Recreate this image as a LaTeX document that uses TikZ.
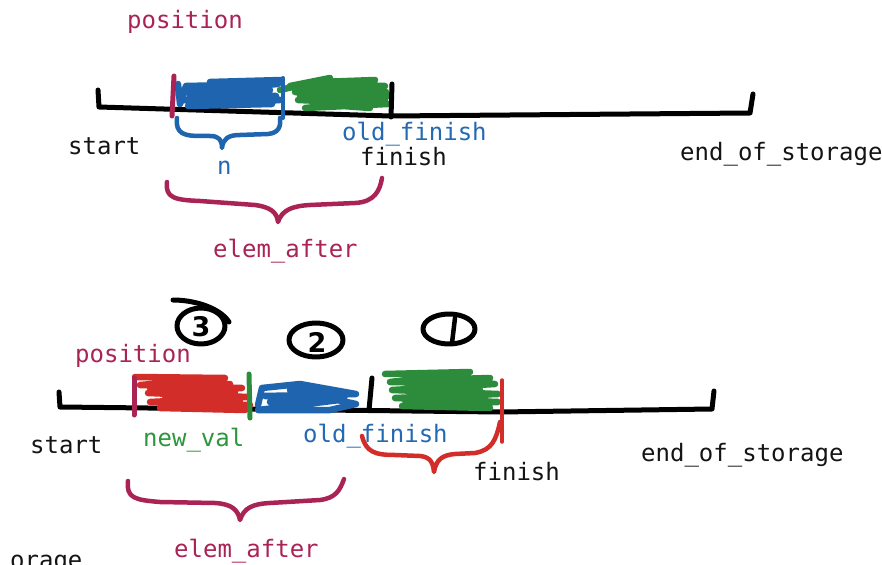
\documentclass[tikz,border=0pt]{standalone}
\usepackage{fontspec}
\setmonofont{DejaVu Sans Mono}
\setsansfont{DejaVu Sans}
\definecolor{crim}{RGB}{170,35,85}
\definecolor{bluc}{RGB}{30,100,175}
\definecolor{grnc}{RGB}{45,140,60}
\definecolor{redc}{RGB}{210,45,40}
\definecolor{txtblue}{RGB}{35,105,180}
\definecolor{txtgreen}{RGB}{45,150,60}
\definecolor{txtblack}{RGB}{20,20,20}
\begin{document}
\begin{tikzpicture}[x=1bp,y=-1bp, line cap=round, line join=round,
  lbl/.style={font=\ttfamily\fontsize{24bp}{28bp}\selectfont, inner sep=0pt, anchor=base west},
  ink/.style={line width=5bp},
  scrib/.style={line width=6.5bp},
  bracestroke/.style={line width=4.5bp},
  num/.style={font=\sffamily\bfseries\fontsize{27bp}{28bp}\selectfont, inner sep=0pt}]
\useasboundingbox (0,0) rectangle (882,565);
\fill[white] (0,0) rectangle (882,565);
\clip (0,0) rectangle (882,565);

% ================= TOP =================
\node[lbl, text=crim] (pos1) at (127,29) {position};
% baseline
\draw[ink, black] (98,90) -- (99,107) -- (390,116) -- (750,113) -- (753,94);
% scribbles
\draw[scrib, grnc] (280,90) -- (330,78) -- (290,86) -- (385,86) -- (295,92) -- (388,96) -- (298,100) -- (388,104) -- (305,108) -- (385,100) -- (300,96) -- (380,90) -- (320,82) -- (375,80) -- (310,88) -- (386,92) -- (315,104) -- (370,108);
\draw[scrib, bluc] (178,84) -- (180,104) -- (186,86) -- (278,84) -- (182,92) -- (276,96) -- (184,100) -- (272,104) -- (188,106) -- (280,100) -- (200,88) -- (282,80) -- (210,82) -- (260,92) -- (190,96) -- (270,90) -- (200,104) -- (250,98);
\draw[line width=4bp, bluc] (283,78) -- (283,118);
% ticks
\draw[ink, crim] (174,76) -- (172,116);
\draw[ink, black] (392,84) -- (391,117);
% n brace
\draw[bracestroke, bluc] (177,118) .. controls (175,134) and (185,136) .. (200,136) -- (210,136) .. controls (219,136) and (222,140) .. (222,148) .. controls (223,139) and (228,135) .. (240,135) -- (268,134) .. controls (279,133) and (281,126) .. (280,118);
% elem_after brace
\draw[bracestroke, crim] (167,182) .. controls (165,198) and (175,200) .. (200,201) -- (255,205) .. controls (270,207) and (277,212) .. (278,222) .. controls (282,210) and (292,206) .. (310,205) -- (355,203) .. controls (375,202) and (380,190) .. (382,178);
% labels
\node[lbl, text=txtblack] (start1) at (68,155) {start};
\node[lbl, text=txtblue] (oldf1) at (342,141) {old\_finish};
\node[lbl, text=txtblack] (fin1) at (360,166) {finish};
\node[lbl, text=txtblue] (n1) at (217,175) {n};
\node[lbl, text=txtblack] (eos1) at (680,161) {end\_of\_storage};
\node[lbl, text=crim] (ea1) at (213,258) {elem\_after};

% ================= BOTTOM =================
% circled numbers
\draw[ink, black] (201,326) ellipse [x radius=24, y radius=18];
\draw[ink, black] (173,300) .. controls (195,300) and (220,308) .. (229,322);
\node[num] (c3) at (201,327) {3};
\draw[ink, black] (316,340) ellipse [x radius=27, y radius=17];
\node[num] (c2) at (317,342) {2};
\draw[ink, black] (449,329) ellipse [x radius=26, y radius=15];
\draw[line width=4.5bp, black] (455,318) -- (452,343);
\node[lbl, text=crim] (pos2) at (75,362) {position};
% baseline
\draw[ink, black] (59,392) -- (60,407) -- (500,412) -- (712,409) -- (714,391);
% scribbles
\draw[scrib, redc] (135,377) -- (225,378) -- (140,385) -- (242,388) -- (148,393) -- (248,397) -- (150,402) -- (250,405) -- (160,408) -- (245,410) -- (170,400) -- (235,392) -- (150,388) -- (230,384) -- (165,396) -- (240,402);
\draw[scrib, bluc] (258,405) -- (262,388) -- (300,384) -- (356,394) -- (265,396) -- (340,400) -- (258,410) -- (330,410) -- (356,404) -- (290,390) -- (320,392) -- (270,402) -- (345,396) -- (280,408);
\draw[scrib, grnc] (385,374) -- (470,372) -- (390,382) -- (495,384) -- (392,390) -- (498,394) -- (395,398) -- (498,402) -- (402,406) -- (490,408) -- (405,400) -- (480,390) -- (420,380) -- (490,378) -- (410,394) -- (485,398) -- (415,404);
% ticks
\draw[ink, crim] (134,378) -- (134,415);
\draw[ink, grnc] (249,374) -- (250,418);
\draw[ink, black] (372,378) -- (369,410);
\draw[line width=3.5bp, redc] (502,380) -- (502,442);
% red brace
\draw[bracestroke, redc] (362,436) .. controls (366,452) and (375,455) .. (395,455) -- (420,456) .. controls (430,457) and (433,462) .. (434,472) .. controls (436,460) and (442,455) .. (455,454) -- (475,453) .. controls (492,450) and (496,440) .. (500,422);
% elem_after brace
\draw[bracestroke, crim] (128,481) .. controls (126,498) and (135,500) .. (160,502) -- (215,503) .. controls (232,504) and (238,510) .. (240,520) .. controls (244,508) and (252,504) .. (270,503) -- (320,500) .. controls (336,498) and (340,490) .. (344,479);
% labels
\node[lbl, text=txtblack] (start2) at (30,453) {start};
\node[lbl, text=txtgreen] (nv2) at (143,446) {new\_val};
\node[lbl, text=txtblue] (oldf2) at (303,442) {old\_finish};
\node[lbl, text=txtblack] (fin2) at (473,480) {finish};
\node[lbl, text=txtblack] (eos2) at (641,461) {end\_of\_storage};
\node[lbl, text=crim] (ea2) at (174,557) {elem\_after};
\node[lbl, text=txtblack] (orage) at (10,568) {orage};
\end{tikzpicture}
\end{document}
